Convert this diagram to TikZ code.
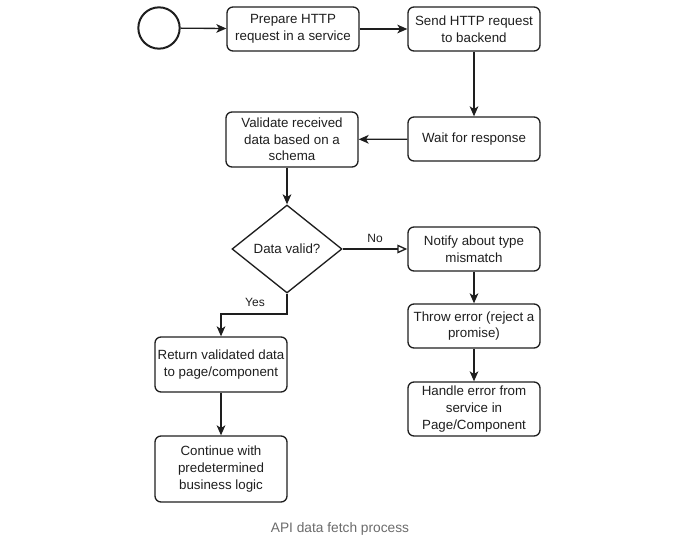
\documentclass[tikz,border=0pt]{standalone}
\usepackage{fontspec}
\setmainfont{Liberation Sans}
\usetikzlibrary{shapes.geometric,arrows.meta}
\definecolor{ink}{HTML}{1E1E1E}
\definecolor{captiongray}{HTML}{6B6B6B}
\begin{document}
\begin{tikzpicture}[x=0.75pt,y=-0.75pt,
  stepbox/.style={draw=ink,line width=1pt,rounded corners=4.5pt,minimum width=99pt,
    minimum height=33pt,align=center,inner sep=1pt,
    font=\fontsize{10}{12.5}\selectfont,text=ink},
  decision/.style={draw=ink,line width=1pt,diamond,aspect=1.25,minimum width=82.5pt,
    minimum height=66pt,inner sep=0pt,font=\fontsize{10}{12.5}\selectfont,text=ink},
  flow/.style={draw=ink,line width=1pt,-{Stealth[length=7.5pt,width=6.5pt,inset=2pt]}},
  openflow/.style={draw=ink,line width=1pt,-{Triangle[open,length=7.5pt,width=6.5pt]}},
  lbl/.style={font=\fontsize{9}{11}\selectfont,text=ink}]
\useasboundingbox (0,0) rectangle (680,539);

% start event
\node[draw=ink,line width=1.5pt,circle,minimum size=31pt,inner sep=0pt] (start) at (159,28) {};

% main sequence
\node[stepbox] (prep) at (293,29) {Prepare HTTP\\request in a service};
\node[stepbox] (send) at (474,29) {Send HTTP request\\to backend};
\node[stepbox] (wait) at (474,139) {Wait for response};
\node[stepbox,minimum height=41.25pt] (valid) at (292,139.5) {Validate received\\data based on a\\schema};
\node[decision] (check) at (287,249) {Data valid?};

% error branch
\node[stepbox] (notify) at (474,249) {Notify about type\\mismatch};
\node[stepbox] (throw) at (474,326) {Throw error (reject a\\promise)};
\node[stepbox,minimum height=40.5pt] (handle) at (474,409) {Handle error from\\service in\\Page/Component};

% success branch
\node[stepbox,minimum height=41.25pt] (ret) at (221,364.5) {Return validated data\\to page/component};
\node[stepbox,minimum height=49.5pt] (cont) at (221,469) {Continue with\\predetermined\\business logic};

% connectors
\draw[flow] (start) -- (prep);
\draw[flow] (prep) -- (send);
\draw[flow] (send) -- (wait);
\draw[flow] (wait) -- (valid);
\draw[flow] (check.north |- valid.south) -- (check.north);
\draw[openflow] (check.east) -- node[lbl,above,pos=0.5,yshift=1pt] {No} (notify.west);
\coordinate (yesbend) at (287,314);
\draw[flow] (check.south) -- (yesbend) -| (ret.north);
\node[lbl] (yes) at (255,302) {Yes};
\draw[flow] (notify) -- (throw);
\draw[flow] (throw) -- (handle);
\draw[flow] (ret) -- (cont);

% caption
\node[font=\fontsize{10.3}{12}\selectfont,text=captiongray] (caption) at (340,529) {API data fetch process};
\end{tikzpicture}
\end{document}
